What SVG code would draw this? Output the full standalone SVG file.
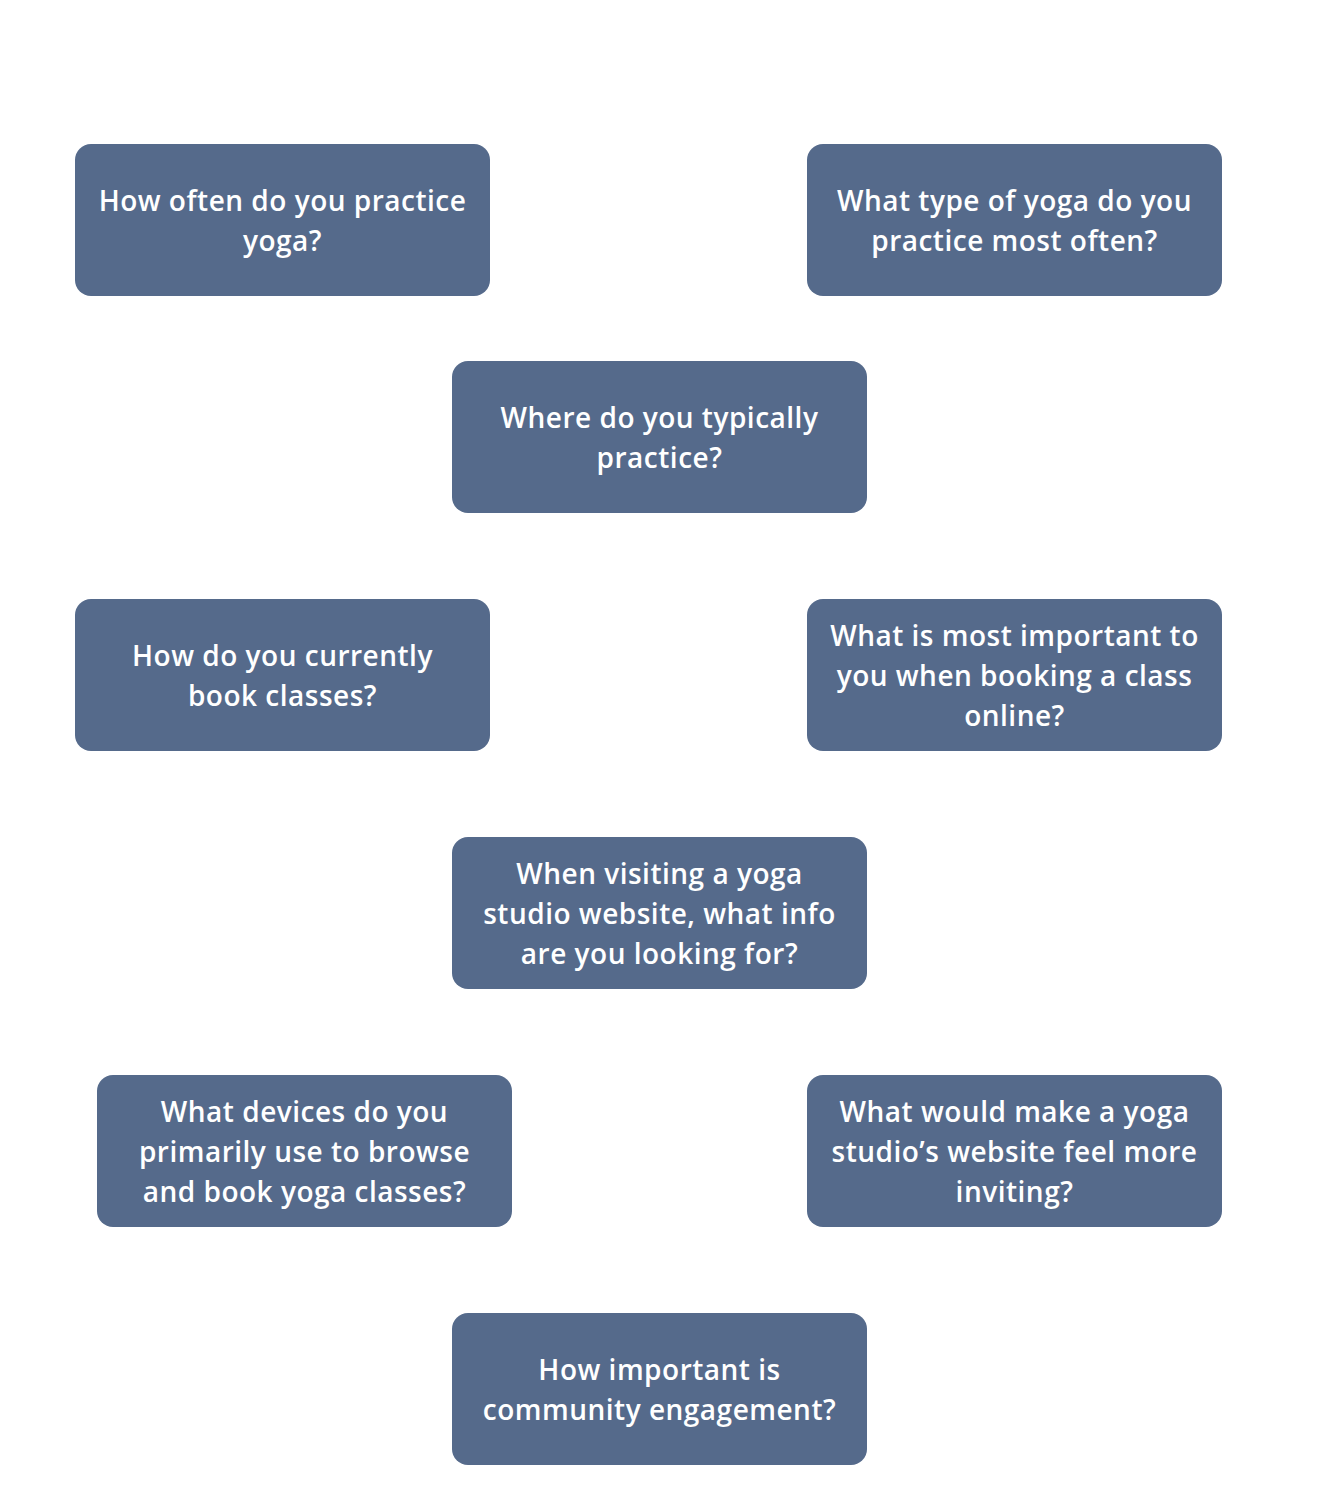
<svg xmlns="http://www.w3.org/2000/svg" width="1320" height="1504" viewBox="0 0 1320 1504">
<style>
.box{fill:#556a8b;}
.t{font-family:"Open Sans","Noto Sans",sans-serif;font-weight:600;font-size:28px;letter-spacing:0.5px;fill:#ffffff;text-anchor:middle;}
</style>
<rect width="1320" height="1504" fill="#ffffff"/>
<g id="connectors"></g>
<g id="n1"><rect class="box" x="75" y="144" width="415" height="152" rx="16"/><text class="t"><tspan x="282.5" y="211">How often do you practice</tspan><tspan x="282.5" y="251">yoga?</tspan></text></g>
<g id="n2"><rect class="box" x="807" y="144" width="415" height="152" rx="16"/><text class="t"><tspan x="1014.5" y="211">What type of yoga do you</tspan><tspan x="1014.5" y="251">practice most often?</tspan></text></g>
<g id="n3"><rect class="box" x="452" y="361" width="415" height="152" rx="16"/><text class="t"><tspan x="659.5" y="428">Where do you typically</tspan><tspan x="659.5" y="468">practice?</tspan></text></g>
<g id="n4"><rect class="box" x="75" y="599" width="415" height="152" rx="16"/><text class="t"><tspan x="282.5" y="666">How do you currently</tspan><tspan x="282.5" y="706">book classes?</tspan></text></g>
<g id="n5"><rect class="box" x="807" y="599" width="415" height="152" rx="16"/><text class="t"><tspan x="1014.5" y="646">What is most important to</tspan><tspan x="1014.5" y="686">you when booking a class</tspan><tspan x="1014.5" y="726">online?</tspan></text></g>
<g id="n6"><rect class="box" x="452" y="837" width="415" height="152" rx="16"/><text class="t"><tspan x="659.5" y="884">When visiting a yoga</tspan><tspan x="659.5" y="924">studio website, what info</tspan><tspan x="659.5" y="964">are you looking for?</tspan></text></g>
<g id="n7"><rect class="box" x="97" y="1075" width="415" height="152" rx="16"/><text class="t"><tspan x="304.5" y="1122">What devices do you</tspan><tspan x="304.5" y="1162">primarily use to browse</tspan><tspan x="304.5" y="1202">and book yoga classes?</tspan></text></g>
<g id="n8"><rect class="box" x="807" y="1075" width="415" height="152" rx="16"/><text class="t"><tspan x="1014.5" y="1122">What would make a yoga</tspan><tspan x="1014.5" y="1162">studio’s website feel more</tspan><tspan x="1014.5" y="1202">inviting?</tspan></text></g>
<g id="n9"><rect class="box" x="452" y="1313" width="415" height="152" rx="16"/><text class="t"><tspan x="659.5" y="1380">How important is</tspan><tspan x="659.5" y="1420">community engagement?</tspan></text></g>
</svg>
